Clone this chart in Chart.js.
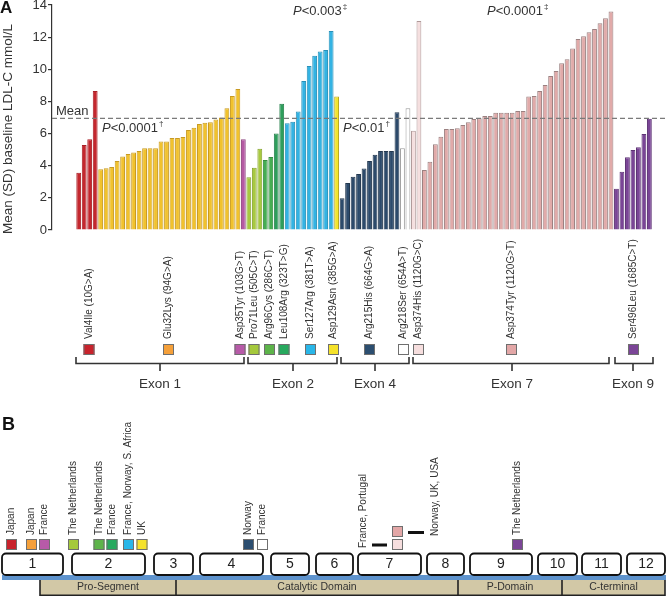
<!DOCTYPE html>
<html>
<head>
<meta charset="utf-8">
<script src="https://cdn.jsdelivr.net/npm/chart.js@4.4.1/dist/chart.umd.min.js"></script>
<style>
  html, body { margin: 0; padding: 0; background: #fff; }
  canvas { display: block; }
</style>
</head>
<body>
<canvas id="chart" width="666" height="596"></canvas>
<script>
// baseline LDL-C per carrier, sorted within each PCSK9 mutation
const mutations = ['Val4Ile (10G>A)', 'Glu32Lys (94G>A)', 'Asp35Tyr (103G>T)', 'Pro71Leu (505C>T)',
  'Arg96Cys (286C>T)', 'Leu108Arg (323T>G)', 'Ser127Arg (381T>A)', 'Asp129Asn (385G>A)',
  'Arg215His (664G>A)', 'Arg218Ser (654A>T)', 'Asp374His (1120G>C)', 'Asp374Tyr (1120G>T)',
  'Ser496Leu (1685C>T)'];
const countries = ['Japan', 'Japan', 'France', 'The Netherlands', 'The Netherlands', 'France',
  'France, Norway, S. Africa', 'UK', 'Norway', 'France', 'France, Portugal', 'Norway, UK, USA',
  'The Netherlands'];

const val4Ile = [3.57, 5.29, 5.64, 8.65];
const glu32Lys = [3.78, 3.84, 3.92, 4.29, 4.58, 4.73, 4.82, 4.92, 5.08, 5.08, 5.08, 5.5, 5.5,
  5.73, 5.73, 5.78, 6.22, 6.37, 6.59, 6.68, 6.7, 6.88, 7.0, 7.57, 8.34, 8.78];
const asp35Tyr = [5.64];
const pro71Leu = [3.28, 3.88, 5.06];
const arg96Cys = [4.36, 4.54];
const leu108Arg = [6.0, 7.86];
const ser127Arg = [6.64, 6.74, 7.37, 9.27, 10.2, 10.85, 11.1, 11.2, 12.39];
const asp129Asn = [8.3];
const arg215His = [1.97, 2.93, 3.32, 3.49, 3.82, 4.29, 4.69, 4.92, 4.92, 4.92, 7.32];
const arg218Ser = [5.08, 7.57];
const asp374His = [6.18, 13.0];
const asp374Tyr = [3.73, 4.25, 5.33, 5.81, 6.29, 6.29, 6.33, 6.54, 6.7, 6.91, 6.95, 7.1, 7.1,
  7.3, 7.3, 7.3, 7.3, 7.4, 7.4, 8.3, 8.34, 8.65, 9.02, 9.58, 9.9, 10.37, 10.62, 11.29, 11.89,
  12.05, 12.3, 12.51, 12.86, 13.17, 13.59];
const ser496Leu = [2.57, 3.63, 4.52, 4.98, 5.15, 5.98, 6.93];

const meanLDL = 6.95;
const yTicks = [0, 2, 4, 6, 8, 10, 12, 14];
const exonNames = ['Exon 1', 'Exon 2', 'Exon 4', 'Exon 7', 'Exon 9'];
const exonNumbers = ['1', '2', '3', '4', '5', '6', '7', '8', '9', '10', '11', '12'];
const domains = ['Pro-Segment', 'Catalytic Domain', 'P-Domain', 'C-terminal'];

const groups = [val4Ile, glu32Lys, asp35Tyr, pro71Leu, arg96Cys, leu108Arg, ser127Arg,
  asp129Asn, arg215His, arg218Ser, asp374His, asp374Tyr, ser496Leu];

// styling
const barFill = ['#c4272e', '#f1c22d', '#b55aa3', '#a8c940', '#45ae52', '#2e9e5c', '#33b3e3',
  '#f3e52f', '#2c4a6b', '#ffffff', '#f5dfdf', '#e1aaa9', '#7a4596'];
const barEdge = ['#a81f26', '#c89a22', '#8f4582', '#87a531', '#368c41', '#257f4a', '#2890b8',
  '#b9a820', '#23384f', '#9a9a9a', '#b09a9a', '#9b8181', '#5e3475'];
const keyFill = ['#c8232c', '#f5a03a', '#b75aa8', '#a5c93c', '#5db44a', '#27a95e', '#29b6e8',
  '#f5e22a', '#2c4e70', '#ffffff', '#f6dede', '#e3a7a7', '#7b4597'];

// layout of the annotation panels (pixels)
const tagX = [89, 168.5, 240, 254, 269.5, 284, 310.5, 333.5, 369.5, 403.5, 418.5, 511.5, 633.5];
const braces = [[76, 244, 160], [248, 337, 293], [341, 409, 375], [413, 609, 512], [615, 653, 633]];
const exonBoxes = [[2, 63], [72, 145], [154, 193], [200, 263], [271, 309], [316, 353], [358, 421],
  [427, 464], [470, 532], [538, 577], [582, 621], [627, 665]];
const domainEdges = [40, 176, 458, 562, 665];
// panel B: [square left, square top, text centre x, text bottom y]
const flagPos = [[6, 539, 11.5, 535], [26, 539, 31.5, 535], [39, 539, 44.5, 535],
  [68, 539, 73.5, 535], [93.5, 539, 99, 535], [106.5, 539, 112, 535], [123, 539, 128.5, 535],
  [136.5, 539, 142, 535], [243, 539, 248.5, 535], [257, 539, 262.5, 535], [392, 539, 363, 548],
  [392, 526, 435, 536], [512, 539, 517.5, 535]];

const FONT = '"Liberation Sans", Arial, Helvetica, sans-serif';

const points = [], fills = [], edges = [];
groups.forEach((g, k) => {
  g.forEach(v => {
    points.push({ x: points.length, y: v });
    fills.push(barFill[k]);
    edges.push(barEdge[k]);
  });
});

function upText(ctx, str, x, y, size, align) {
  ctx.save();
  ctx.translate(x, y);
  ctx.rotate(-Math.PI / 2);
  ctx.font = size + 'px ' + FONT;
  ctx.fillStyle = '#333';
  ctx.textAlign = align || 'left';
  ctx.textBaseline = 'middle';
  ctx.fillText(str, 0, 0);
  ctx.restore();
}

function pValue(ctx, x, y, rest, mark) {
  ctx.save();
  ctx.fillStyle = '#333';
  ctx.textBaseline = 'middle';
  ctx.textAlign = 'left';
  ctx.font = 'italic 13px ' + FONT;
  ctx.fillText('P', x, y);
  x += ctx.measureText('P').width;
  ctx.font = '13px ' + FONT;
  ctx.fillText(rest, x, y);
  x += ctx.measureText(rest).width + 1;
  ctx.font = '8px ' + FONT;
  ctx.fillText(mark, x, y - 4);
  ctx.restore();
}

function square(ctx, x, y, color) {
  ctx.fillStyle = color;
  ctx.fillRect(x, y, 11, 11);
  ctx.strokeStyle = '#6f6f6f';
  ctx.lineWidth = 1;
  ctx.strokeRect(x + 0.5, y + 0.5, 10, 10);
}

const annotate = {
  id: 'annotate',
  afterDatasetsDraw(chart) {
    const ctx = chart.ctx;
    const area = chart.chartArea;
    const yMean = chart.scales.y.getPixelForValue(meanLDL);
    ctx.save();
    ctx.strokeStyle = '#7a7a7a';
    ctx.lineWidth = 1.3;
    ctx.setLineDash([5, 3]);
    ctx.beginPath();
    ctx.moveTo(area.left, yMean);
    ctx.lineTo(666, yMean);
    ctx.stroke();
    ctx.setLineDash([]);
    ctx.fillStyle = '#333';
    ctx.font = '13px ' + FONT;
    ctx.textBaseline = 'alphabetic';
    ctx.fillText('Mean', 56, yMean - 3);
    ctx.restore();

    pValue(ctx, 102, 128, '<0.0001', '\u2020');
    pValue(ctx, 293, 11, '<0.003', '\u2021');
    pValue(ctx, 343, 128, '<0.01', '\u2020');
    pValue(ctx, 487, 11, '<0.0001', '\u2021');
  },
  afterDraw(chart) {
    const ctx = chart.ctx;
    ctx.save();

    // panel letters and y title
    ctx.fillStyle = '#111';
    ctx.font = 'bold 17px ' + FONT;
    ctx.textBaseline = 'top';
    ctx.fillText('A', 0, 0);
    ctx.font = 'bold 18px ' + FONT;
    ctx.textBaseline = 'middle';
    ctx.fillText('B', 2, 425);
    upText(ctx, 'Mean (SD) baseline LDL-C mmol/L', 8, 129, 13.5, 'center');

    // mutation names and colour keys
    mutations.forEach((m, k) => {
      upText(ctx, m, tagX[k], 339, 10);
      square(ctx, tagX[k] - 5.5, 344, keyFill[k]);
    });

    // exon braces
    ctx.strokeStyle = '#333';
    ctx.lineWidth = 1.6;
    braces.forEach(([a, b, m], k) => {
      ctx.beginPath();
      ctx.moveTo(a, 357); ctx.lineTo(a, 363.5); ctx.lineTo(b, 363.5); ctx.lineTo(b, 357);
      ctx.moveTo(m, 363.5); ctx.lineTo(m, 371);
      ctx.stroke();
      ctx.fillStyle = '#333';
      ctx.font = '13.5px ' + FONT;
      ctx.textAlign = 'center';
      ctx.textBaseline = 'middle';
      ctx.fillText(exonNames[k], m, 384);
    });

    // panel B: countries and keys
    flagPos.forEach(([sx, sy, tx, ty], k) => {
      upText(ctx, countries[k], tx, ty, 10);
      square(ctx, sx, sy, keyFill[k]);
    });
    ctx.fillStyle = '#111';
    ctx.fillRect(372, 543.5, 15, 3);
    ctx.fillRect(408, 531, 16, 3);

    // blue strip and domains
    ctx.fillStyle = '#5e93cd';
    ctx.fillRect(2, 575, 664, 5);
    ctx.fillStyle = '#d2c8a6';
    ctx.fillRect(domainEdges[0], 580, domainEdges[4] - domainEdges[0], 16);
    ctx.strokeStyle = '#222';
    ctx.lineWidth = 1.6;
    ctx.beginPath();
    domainEdges.forEach(x => { ctx.moveTo(x, 580); ctx.lineTo(x, 596); });
    ctx.moveTo(domainEdges[0], 595.2); ctx.lineTo(domainEdges[4], 595.2);
    ctx.stroke();
    ctx.fillStyle = '#333';
    ctx.font = '10.5px ' + FONT;
    ctx.textAlign = 'center';
    ctx.textBaseline = 'middle';
    domains.forEach((d, k) => {
      ctx.fillText(d, (domainEdges[k] + domainEdges[k + 1]) / 2, 587);
    });

    // exon boxes
    exonBoxes.forEach(([a, b], k) => {
      ctx.fillStyle = '#fff';
      ctx.strokeStyle = '#111';
      ctx.lineWidth = 1.8;
      ctx.beginPath();
      ctx.roundRect(a, 553.5, b - a, 21.5, 4);
      ctx.fill();
      ctx.stroke();
      ctx.fillStyle = '#222';
      ctx.font = '14px ' + FONT;
      ctx.fillText(exonNumbers[k], (a + b) / 2, 564.5);
    });

    ctx.restore();
  }
};

new Chart(document.getElementById('chart'), {
  type: 'bar',
  data: {
    datasets: [{
      data: points,
      backgroundColor: fills,
      borderColor: edges,
      borderWidth: 1,
      barPercentage: 0.88,
      categoryPercentage: 1
    }]
  },
  options: {
    responsive: false,
    animation: false,
    layout: { padding: { top: 5, bottom: 366, left: 0, right: 4 } },
    plugins: { legend: { display: false }, tooltip: { enabled: false } },
    scales: {
      x: {
        type: 'linear',
        display: false,
        offset: false,
        grid: { offset: false },
        min: -4.87,
        max: 106.3
      },
      y: {
        min: 0,
        max: 14,
        afterBuildTicks: s => { s.ticks = yTicks.map(v => ({ value: v })); },
        afterFit: s => { s.width = 52; s.paddingTop = 0; s.paddingBottom = 0; },
        ticks: { color: '#333', font: { size: 13, family: FONT }, padding: 1 },
        grid: { drawOnChartArea: false, drawTicks: true, tickLength: 4, color: '#333', lineWidth: 1.2 },
        border: { display: true, color: '#333', width: 1.2 }
      }
    }
  },
  plugins: [annotate]
});
</script>
</body>
</html>
